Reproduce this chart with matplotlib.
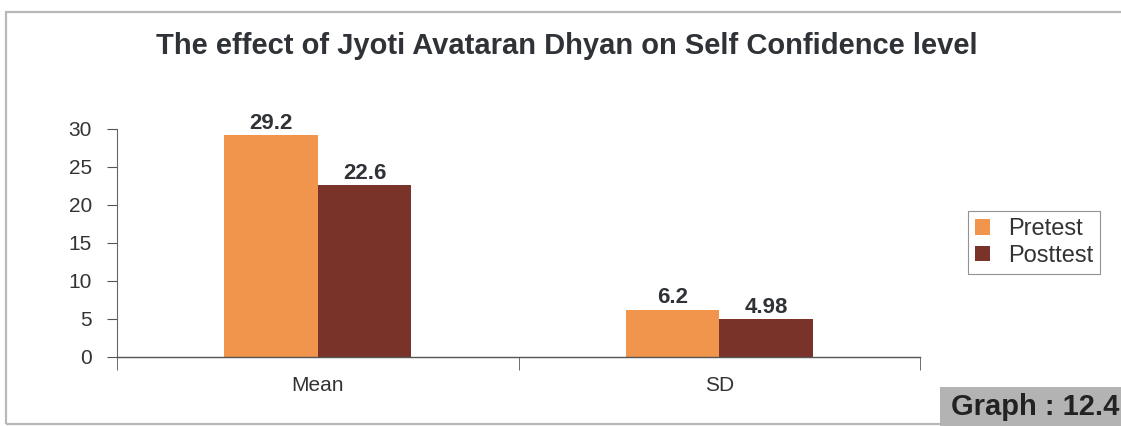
import matplotlib
matplotlib.use("Agg")
import matplotlib.pyplot as plt
from matplotlib.patches import Rectangle
import numpy as np

plt.rcParams['font.family'] = ['Liberation Sans', 'DejaVu Sans']

categories = ["Mean", "SD"]
series_names = ["Pretest", "Posttest"]
pretest = [29.2, 6.2]
posttest = [22.6, 4.98]
yticks = [0, 5, 10, 15, 20, 25, 30]

colors = ["#F0954B", "#7A3328"]
text_color = "#2f3236"

W, H = 1121, 426
fig = plt.figure(figsize=(W / 100, H / 100), dpi=100)

# outer frame of the figure
fig.patches.append(Rectangle((6 / W, 2 / H), 1.2, (424 - 12) / H, transform=fig.transFigure,
                             fill=False, edgecolor="#b8b8b8", linewidth=1.6, zorder=0))

ax = fig.add_axes([117 / W, (H - 357) / H, 803 / W, 228 / H])
x = np.arange(len(categories))
width = 0.233
for i, (vals, name) in enumerate(zip([pretest, posttest], series_names)):
    offs = (i - 0.5) * width
    bars = ax.bar(x + offs, vals, width, color=colors[i], label=name, zorder=2)
    for b, v in zip(bars, vals):
        ax.text(b.get_x() + b.get_width() / 2, v + 0.2, f"{v:g}", ha="center", va="bottom",
                fontsize=16, fontweight="bold", color=text_color)

ax.set_xlim(-0.5, len(categories) - 0.5)
ax.set_ylim(0, 30)
ax.set_yticks(yticks)
ax.tick_params(axis="y", labelsize=15, length=7, color="#555555", labelcolor="#333333", pad=11)
ax.set_xticks(x)
ax.set_xticklabels(categories, fontsize=15, color="#333333")
ax.tick_params(axis="x", length=0, pad=14)
# category boundary ticks
ax.set_xticks([-0.5, 0.5, 1.5], minor=True)
ax.tick_params(axis="x", which="minor", length=9, color="#555555")
for s in ["top", "right"]:
    ax.spines[s].set_visible(False)
ax.spines["left"].set_color("#666666")
ax.spines["bottom"].set_color("#555555")
ax.spines["left"].set_linewidth(0.8)
ax.spines["bottom"].set_linewidth(1.0)

fig.text(567 / W, 1 - 46 / H, "The effect of Jyoti Avataran Dhyan on Self Confidence level",
         ha="center", va="center", fontsize=21, fontweight="bold", color=text_color)

leg = fig.legend(loc="upper left", bbox_to_anchor=(968 / W, 1 - 211 / H), fontsize=17,
                 frameon=True, fancybox=False, edgecolor="#777777", handlelength=0.65,
                 handleheight=0.65, handletextpad=0.75, borderpad=0.3, labelspacing=0.2,
                 borderaxespad=0)
leg.get_frame().set_linewidth(0.8)
for t in leg.get_texts():
    t.set_color("#333333")

fig.patches.append(Rectangle((940 / W, 0), (W - 940) / W, (426 - 387) / H,
                             transform=fig.transFigure, facecolor="#b3b3b3",
                             edgecolor="none", zorder=1))
fig.text(1035 / W, 1 - 407 / H, "Graph : 12.4", ha="center", va="center", fontsize=21,
         fontweight="bold", color="#222222", zorder=2)

fig.savefig("out.png", dpi=100)
